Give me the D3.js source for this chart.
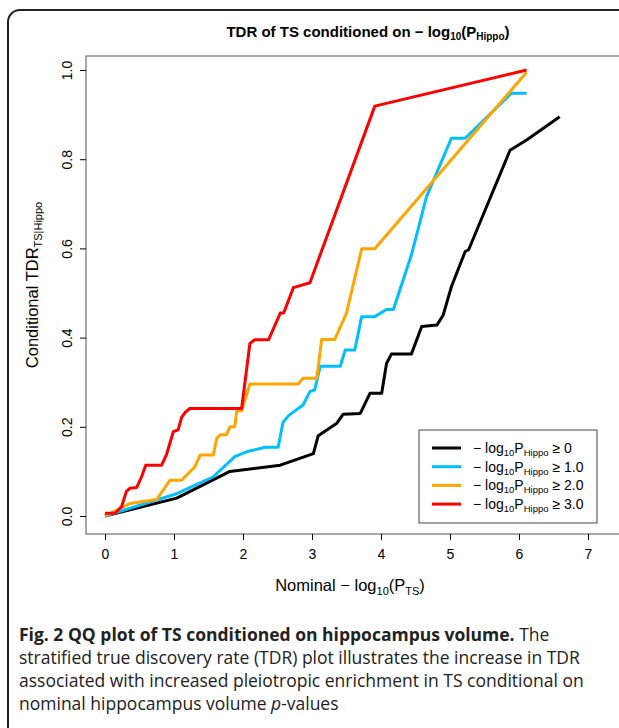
<!DOCTYPE html>
<html><head><meta charset="utf-8">
<script src="https://cdn.jsdelivr.net/npm/d3@7"></script>
<style>body{margin:0;background:#fff;overflow:hidden}</style>
</head><body>
<svg id="c" width="619" height="728"></svg>
<script>
const xTicks = [0, 1, 2, 3, 4, 5, 6, 7];
const yTicks = [0, 0.2, 0.4, 0.6, 0.8, 1.0];
const thresholds = ["0", "1.0", "2.0", "3.0"];
const colors = ["#000000", "#00BFFF", "#FFA500", "#FF0000"];

const black = [[0,0],[1.04,0.04],[1.81,0.10],[2.54,0.114],[3.02,0.14],[3.09,0.18],[3.36,0.208],[3.45,0.228],[3.70,0.23],[3.84,0.275],[4.01,0.275],[4.08,0.342],[4.15,0.363],[4.44,0.363],[4.59,0.425],[4.81,0.428],[4.90,0.45],[5.02,0.514],[5.22,0.593],[5.27,0.597],[5.87,0.82],[6.11,0.843],[6.59,0.895]];
const blue = [[0,0],[1.04,0.05],[1.57,0.088],[1.88,0.133],[2.05,0.144],[2.32,0.154],[2.51,0.154],[2.58,0.21],[2.66,0.225],[2.87,0.249],[2.97,0.279],[3.04,0.283],[3.12,0.336],[3.41,0.336],[3.48,0.372],[3.62,0.372],[3.72,0.447],[3.91,0.447],[4.08,0.463],[4.18,0.463],[4.44,0.585],[4.66,0.716],[5.02,0.847],[5.22,0.847],[5.89,0.948],[6.11,0.948]];
const orange = [[0,0],[0.36,0.028],[0.75,0.037],[0.94,0.08],[1.11,0.08],[1.30,0.11],[1.38,0.137],[1.57,0.137],[1.62,0.174],[1.67,0.182],[1.76,0.182],[1.81,0.20],[1.88,0.20],[1.91,0.236],[1.98,0.236],[2.10,0.296],[2.80,0.296],[2.87,0.309],[3.07,0.309],[3.14,0.396],[3.33,0.396],[3.50,0.455],[3.72,0.599],[3.91,0.599],[6.11,0.995]];
const red = [[0,0.006],[0.145,0.006],[0.24,0.021],[0.31,0.055],[0.36,0.062],[0.46,0.064],[0.53,0.088],[0.59,0.114],[0.82,0.114],[0.89,0.137],[0.99,0.189],[1.06,0.193],[1.11,0.221],[1.16,0.232],[1.23,0.241],[1.98,0.241],[2.10,0.387],[2.17,0.395],[2.37,0.395],[2.54,0.455],[2.59,0.455],[2.73,0.512],[2.97,0.523],[3.91,0.919],[6.11,1.0]];
const series = [black, blue, orange, red];

const svg = d3.select("#c");
const font = "'Liberation Sans', Arial, sans-serif";
const x = d3.scaleLinear().domain([0, 7]).range([105, 588]);
const y = d3.scaleLinear().domain([0, 1]).range([516, 70]);

// outer frame
svg.append("rect").attr("x", 8).attr("y", 10).attr("width", 640).attr("height", 760)
  .attr("rx", 12).attr("fill", "none").attr("stroke", "#222").attr("stroke-width", 2);

// title
const t = svg.append("text").attr("x", 368).attr("y", 37).attr("text-anchor", "middle")
  .attr("font-family", font).attr("font-weight", "bold").attr("font-size", 15);
t.append("tspan").text("TDR of TS conditioned on \u2212 log");
t.append("tspan").attr("font-size", 10).attr("dy", 3).text("10");
t.append("tspan").attr("dy", -3).text("(P");
t.append("tspan").attr("font-size", 10).attr("dy", 3).text("Hippo");
t.append("tspan").attr("dy", -3).text(")");

// plot box
svg.append("rect").attr("x", 86).attr("y", 56).attr("width", 560).attr("height", 478)
  .attr("fill", "none").attr("stroke", "#555").attr("stroke-width", 1);

// axes
const xa = svg.append("g").attr("transform", "translate(0,534)")
  .call(d3.axisBottom(x).tickValues(xTicks).tickSize(6).tickFormat(d3.format("d")));
xa.select(".domain").remove();
xa.selectAll("text").attr("font-family", font).attr("font-size", 14).attr("dy", "1.15em");
const ya = svg.append("g").attr("transform", "translate(86,0)")
  .call(d3.axisLeft(y).tickValues(yTicks).tickSize(6).tickFormat(d3.format(".1f")));
ya.select(".domain").remove();
ya.selectAll(".tick text").attr("font-family", font).attr("font-size", 14)
  .attr("text-anchor", "middle").attr("transform", "rotate(-90)").attr("x", 0).attr("y", -14).attr("dy", 0);

// axis labels
const xl = svg.append("text").attr("x", 350).attr("y", 591).attr("text-anchor", "middle")
  .attr("font-family", font).attr("font-size", 16.5);
xl.append("tspan").text("Nominal \u2212 log");
xl.append("tspan").attr("font-size", 11).attr("dy", 4).text("10");
xl.append("tspan").attr("dy", -4).text("(P");
xl.append("tspan").attr("font-size", 11).attr("dy", 4).text("TS");
xl.append("tspan").attr("dy", -4).text(")");
const yl = svg.append("text").attr("transform", "translate(38,285) rotate(-90)").attr("text-anchor", "middle")
  .attr("font-family", font).attr("font-size", 16.5);
yl.append("tspan").text("Conditional TDR");
yl.append("tspan").attr("font-size", 11).attr("dy", 4).text("TS|Hippo");

// lines
const line = d3.line().x(d => x(d[0])).y(d => y(d[1]));
series.forEach((s, i) => svg.append("path").attr("d", line(s)).attr("fill", "none")
  .attr("stroke", colors[i]).attr("stroke-width", 3).attr("stroke-linejoin", "round"));

// legend
svg.append("rect").attr("x", 419).attr("y", 430).attr("width", 178).attr("height", 93)
  .attr("fill", "#fff").attr("stroke", "#444");
thresholds.forEach((th, i) => {
  const ly = 448 + i * 18.7;
  svg.append("line").attr("x1", 432).attr("x2", 461).attr("y1", ly).attr("y2", ly)
    .attr("stroke", colors[i]).attr("stroke-width", 3);
  const tx = svg.append("text").attr("x", 473).attr("y", ly + 5).attr("font-family", font).attr("font-size", 14);
  tx.append("tspan").text("\u2212 log");
  tx.append("tspan").attr("font-size", 9.5).attr("dy", 3).text("10");
  tx.append("tspan").attr("dy", -3).text("P");
  tx.append("tspan").attr("font-size", 9.5).attr("dy", 3).text("Hippo");
  tx.append("tspan").attr("dy", -3).text(" \u2265 " + th);
});

// caption
const cap = [
  [["Fig. 2 QQ plot of TS conditioned on hippocampus volume.", true, false], [" The", false, false]],
  [["stratified true discovery rate (TDR) plot illustrates the increase in TDR", false, false]],
  [["associated with increased pleiotropic enrichment in TS conditional on", false, false]],
  [["nominal hippocampus volume ", false, false], ["p", false, true], ["-values", false, false]]
];
cap.forEach((parts, i) => {
  const tx = svg.append("text").attr("x", 19).attr("y", 641 + i * 23)
    .attr("font-family", "'Open Sans', sans-serif").attr("font-size", 17.5).attr("fill", "#222");
  parts.forEach(p => tx.append("tspan").text(p[0]).attr("font-weight", p[1] ? "bold" : "normal")
    .attr("font-style", p[2] ? "italic" : "normal"));
});
</script>
</body></html>
